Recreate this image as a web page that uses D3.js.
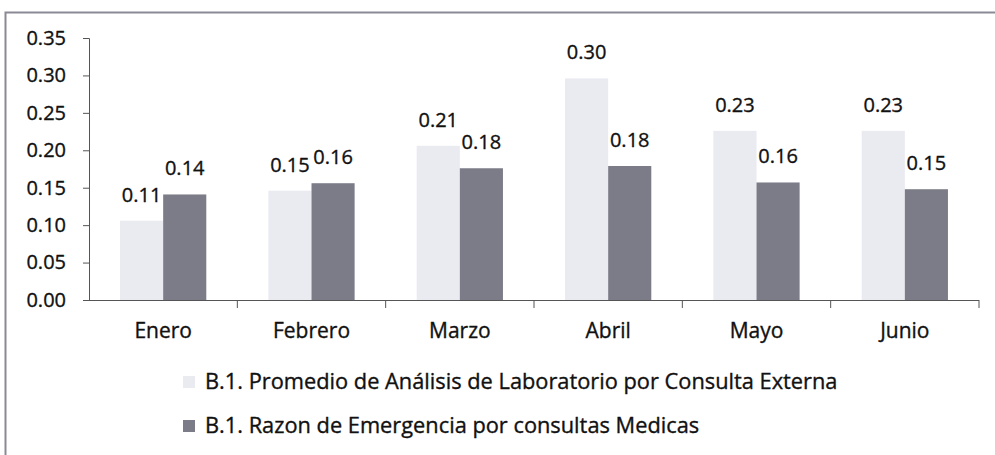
<!DOCTYPE html>
<html>
<head>
<meta charset="utf-8">
<script src="https://cdn.jsdelivr.net/npm/d3@7"></script>
<style>
  body { margin: 0; background: #fff; }
  svg { display: block; font-family: "Open Sans", Lato, sans-serif; }
  text { fill: #111; stroke: #111; stroke-width: 0.35px; }
</style>
</head>
<body>
<svg id="chart"></svg>
<script>
//**** DATA ****//
const months = ["Enero", "Febrero", "Marzo", "Abril", "Mayo", "Junio"];
const promedioLab = [0.106, 0.146, 0.206, 0.296, 0.226, 0.226];
const razonEmerg = [0.141, 0.156, 0.176, 0.179, 0.157, 0.148];
const seriesNames = [
  "B.1. Promedio de Análisis de Laboratorio por Consulta Externa",
  "B.1. Razon de Emergencia por consultas Medicas"
];
const yTicks = [0, 0.05, 0.10, 0.15, 0.20, 0.25, 0.30, 0.35];

const width = 995, height = 455;
const colors = ["#eaeaf1", "#7c7c88"];
const fmt = d3.format(".2f");
const fontSize = 20;

const svg = d3.select("#chart").attr("width", width).attr("height", height);

// frame of the scanned chart
svg.append("path")
  .attr("d", "M5.5,455 V12.5 H995")
  .attr("fill", "none")
  .attr("stroke", "#8a8a96")
  .attr("stroke-width", 2);

const x = d3.scaleBand().domain(months).range([89, 979]);
const x1 = d3.scaleBand().domain([0, 1]).range([0, x.bandwidth()]).paddingOuter(0.72).paddingInner(0);
const y = d3.scaleLinear().domain([0, 0.35]).range([300, 38]);

// bars
const rows = months.map((m, i) => ({ month: m, vals: [promedioLab[i], razonEmerg[i]] }));
const groups = svg.selectAll("g.month")
  .data(rows)
  .enter()
  .append("g")
  .attr("class", "month")
  .attr("transform", d => "translate(" + x(d.month) + ",0)");

groups.selectAll("rect")
  .data(d => d.vals)
  .enter()
  .append("rect")
  .attr("x", (d, j) => x1(j))
  .attr("width", x1.bandwidth())
  .attr("y", d => y(d))
  .attr("height", d => y(0) - y(d))
  .attr("fill", (d, j) => colors[j]);

groups.selectAll("text")
  .data(d => d.vals)
  .enter()
  .append("text")
  .attr("x", (d, j) => x1(j) + x1.bandwidth() / 2)
  .attr("y", d => y(d) - 19)
  .attr("text-anchor", "middle")
  .attr("font-size", fontSize)
  .text(d => fmt(d));

// y axis
const yAxis = svg.append("g")
  .attr("transform", "translate(89,0)")
  .call(d3.axisLeft(y).tickValues(yTicks).tickFormat(fmt).tickSize(6).tickPadding(17));
yAxis.select(".domain").attr("stroke", "#555");
yAxis.selectAll(".tick line").attr("stroke", "#555");
yAxis.selectAll(".tick text").attr("font-size", fontSize).attr("font-family", "Open Sans");

// x axis with ticks on category boundaries
svg.append("line")
  .attr("x1", 83).attr("x2", 979)
  .attr("y1", y(0) + 0.5).attr("y2", y(0) + 0.5)
  .attr("stroke", "#555");
svg.selectAll("line.xtick")
  .data(months.map(m => x(m) + x.bandwidth()))
  .enter()
  .append("line")
  .attr("class", "xtick")
  .attr("x1", d => d).attr("x2", d => d)
  .attr("y1", y(0)).attr("y2", y(0) + 8)
  .attr("stroke", "#555");
svg.selectAll("text.xlab")
  .data(months)
  .enter()
  .append("text")
  .attr("class", "xlab")
  .attr("x", d => x(d) + x.bandwidth() / 2)
  .attr("y", 338)
  .attr("text-anchor", "middle")
  .attr("font-size", 21)
  .text(d => d);

// legend
const legend = svg.selectAll("g.legend")
  .data(seriesNames)
  .enter()
  .append("g")
  .attr("class", "legend")
  .attr("transform", (d, i) => "translate(183," + (389 + i * 44) + ")");
legend.append("rect")
  .attr("y", -13)
  .attr("width", 12).attr("height", 12)
  .attr("fill", (d, i) => colors[i]);
legend.append("text")
  .attr("x", 22)
  .attr("font-size", 21.8)
  .text(d => d);
</script>
</body>
</html>
